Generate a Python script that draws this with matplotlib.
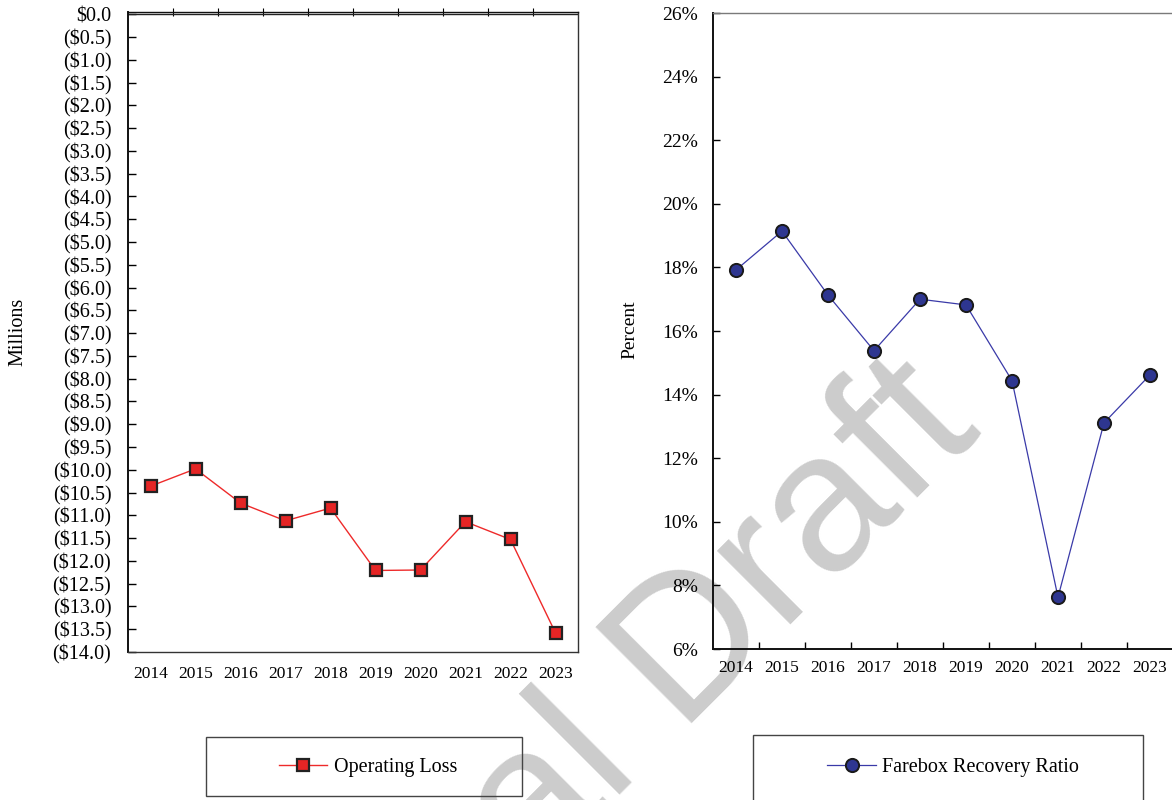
#!/usr/bin/env python3
"""Operating loss and farebox recovery ratio, 2014-2023, side by side."""
import matplotlib
matplotlib.use("Agg")
import matplotlib.pyplot as plt
from matplotlib.lines import Line2D
from matplotlib.patches import Rectangle
from matplotlib.ticker import FixedLocator, FuncFormatter, MultipleLocator

years = ["2014", "2015", "2016", "2017", "2018", "2019", "2020", "2021", "2022", "2023"]
operating_loss = [-10.36, -9.98, -10.73, -11.12, -10.84, -12.21, -12.20, -11.14, -11.53, -13.58]
farebox_ratio = [17.92, 19.14, 17.13, 15.38, 17.00, 16.82, 14.44, 7.63, 13.11, 14.62]

plt.rcParams["font.family"] = ["Liberation Serif", "DejaVu Serif"]

W, H = 1172, 800
fig = plt.figure(figsize=(W / 100, H / 100), dpi=100)


def fig_rect(x0, y0, x1, y1):
    """Pixel box (top-left origin) -> figure fraction [left, bottom, width, height]."""
    return [x0 / W, 1 - y1 / H, (x1 - x0) / W, (y1 - y0) / H]


def money(v, _pos):
    if abs(v) < 1e-9:
        return "$0.0"
    return f"(${abs(v):.1f})"


x = list(range(len(years)))
boundaries = [i + 0.5 for i in range(len(years) - 1)]

# ---- left: operating loss ----
ax1 = fig.add_axes(fig_rect(128, 12, 578, 652))
ax1.patch.set_alpha(0)
ax1.plot(x, operating_loss, color="#ee2a2a", lw=1.0, marker="s", ms=9,
         mfc="#e52525", mec="#222222", mew=1.6, zorder=4)
ax1.set_xlim(-0.5, len(years) - 0.5)
ax1.set_ylim(-14, 0.05)
ax1.axhline(0, color="#222222", lw=1.0)
ax1.yaxis.set_major_locator(MultipleLocator(0.5))
ax1.yaxis.set_major_formatter(FuncFormatter(money))
ax1.tick_params(axis="y", direction="in", length=6, width=1.0, pad=12, labelsize=14.5)
ax1.set_xticks(x)
ax1.set_xticklabels(years)
ax1.tick_params(axis="x", which="major", length=0, pad=10, labelsize=12.5)
ax1.xaxis.set_minor_locator(FixedLocator(boundaries))
ax1.tick_params(axis="x", which="minor", top=True, bottom=False,
                direction="inout", length=6, width=0.8)
for name, sp in ax1.spines.items():
    sp.set_color("#111111" if name in ("left", "top") else "#333333")
    sp.set_linewidth(1.4 if name == "left" else 1.0)
fig.text(18 / W, 1 - 332 / H, "Millions", rotation=90, ha="center", va="center", fontsize=14.5)

# ---- right: farebox recovery ratio ----
ax2 = fig.add_axes(fig_rect(713, 13, 1173, 649))
ax2.patch.set_alpha(0)
ax2.plot(x, farebox_ratio, color="#3a3aa8", lw=0.9, marker="o", ms=9.5,
         mfc="#2e3690", mec="#1a1a1a", mew=1.4, zorder=4)
ax2.set_xlim(-0.5, len(years) - 0.5)
ax2.set_ylim(6, 26)
ax2.yaxis.set_major_locator(MultipleLocator(2))
ax2.yaxis.set_major_formatter(FuncFormatter(lambda v, _p: f"{v:.0f}%"))
ax2.tick_params(axis="y", direction="in", length=5, width=1.0, pad=11, labelsize=14)
ax2.set_xticks(x)
ax2.set_xticklabels(years)
ax2.tick_params(axis="x", which="major", length=0, pad=8, labelsize=12.5)
ax2.xaxis.set_minor_locator(FixedLocator(boundaries))
ax2.tick_params(axis="x", which="minor", direction="in", length=5, width=1.0)
for name, sp in ax2.spines.items():
    sp.set_color("#111111" if name in ("left", "bottom") else "#7a7a7a")
    sp.set_linewidth(1.4 if name in ("left", "bottom") else 1.0)
fig.text(630 / W, 1 - 330 / H, "Percent", rotation=90, ha="center", va="center", fontsize=14)

# ---- legend boxes ----
for (x0, y0, x1, y1) in [(206, 737, 522, 796), (753, 735, 1143, 812)]:
    fig.patches.append(Rectangle((x0 / W, 1 - y1 / H), (x1 - x0) / W, (y1 - y0) / H,
                                 transform=fig.transFigure, fill=False,
                                 edgecolor="#444444", lw=1.0))

loss_handle = Line2D([], [], color="#ee2a2a", lw=1.0, marker="s", ms=9,
                     mfc="#e52525", mec="#222222", mew=1.6)
ratio_handle = Line2D([], [], color="#3a3aa8", lw=0.9, marker="o", ms=9.5,
                      mfc="#2e3690", mec="#1a1a1a", mew=1.4)
fig.legend([loss_handle], ["Operating Loss"], loc="center",
           bbox_to_anchor=(368 / W, 1 - 767 / H), frameon=False, fontsize=14.5,
           handlelength=2.4, handletextpad=0.3)
fig.legend([ratio_handle], ["Farebox Recovery Ratio"], loc="center",
           bbox_to_anchor=(953 / W, 1 - 767 / H), frameon=False, fontsize=14.5,
           handlelength=2.4, handletextpad=0.3)

# ---- watermark behind everything ----
fig.text(983 / W, 1 - 432 / H, "al Draft", rotation=45, rotation_mode="anchor",
         ha="right", va="baseline", fontsize=142, color="#cccccc",
         family="Liberation Sans", zorder=-1)

fig.savefig("out.png", dpi=100)
